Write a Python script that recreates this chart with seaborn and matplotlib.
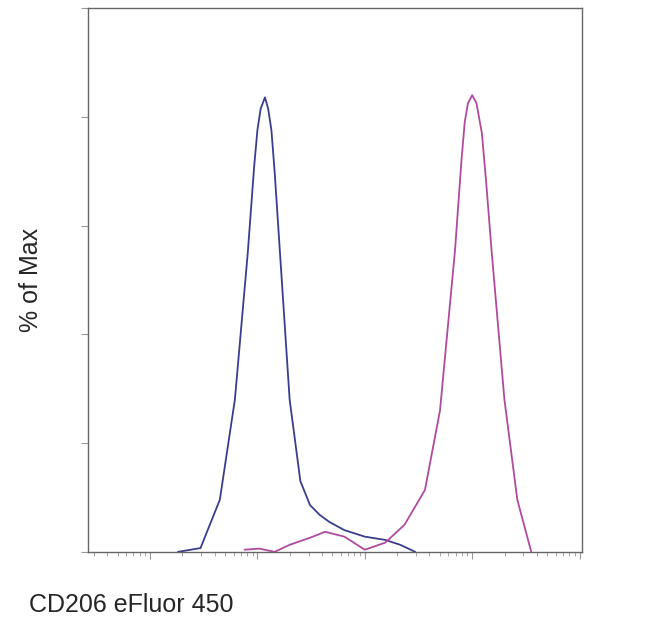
import matplotlib
matplotlib.use("Agg")
import matplotlib.pyplot as plt
import seaborn as sns
import numpy as np
from matplotlib.ticker import LogLocator, NullFormatter, FixedLocator

# log10 fluorescence vs % of max
blue_x = [1.26, 1.47, 1.65, 1.79, 1.91, 1.97, 2.00, 2.03, 2.07, 2.10, 2.13, 2.16, 2.21, 2.30, 2.40, 2.49, 2.58, 2.67, 2.81, 3.00, 3.19, 3.33, 3.47]
blue_y = [0, 0.7, 9.6, 28, 55, 71, 77.6, 81.5, 83.6, 81.5, 77.6, 70, 55, 28, 13, 8.6, 6.8, 5.5, 4, 2.8, 2.2, 1.3, 0]
pink_x = [1.88, 2.02, 2.16, 2.30, 2.49, 2.63, 2.81, 3.00, 3.19, 3.37, 3.56, 3.70, 3.84, 3.90, 3.93, 3.96, 4.00, 4.04, 4.09, 4.13, 4.18, 4.30, 4.42, 4.55]
pink_y = [0.4, 0.6, 0, 1.3, 2.6, 3.7, 2.8, 0.4, 1.7, 5, 11.4, 26, 55.5, 72, 79, 82.5, 84, 82.5, 77, 68, 55.5, 28, 9.6, 0]

sns.set_style("ticks")
plt.rcParams["font.family"] = ["Liberation Sans", "DejaVu Sans"]
fig = plt.figure(figsize=(6.5, 6.3), dpi=100)
ax = fig.add_axes([0.135, 0.124, 0.76, 0.863])

sns.lineplot(x=10 ** np.array(blue_x), y=blue_y, color="#3a3d8f", lw=1.3, ax=ax)
sns.lineplot(x=10 ** np.array(pink_x), y=pink_y, color="#b04a9e", lw=1.3, ax=ax)

ax.set_xscale("log")
ax.set_xlim(10 ** 0.42, 10 ** 5.02)
ax.set_ylim(0, 100)
ax.xaxis.set_major_locator(FixedLocator([10, 100, 1000, 1e4, 1e5]))
ax.xaxis.set_minor_locator(LogLocator(base=10, subs=np.arange(2, 10)))
ax.xaxis.set_major_formatter(NullFormatter())
ax.xaxis.set_minor_formatter(NullFormatter())
ax.set_yticks([0, 20, 40, 60, 80, 100])
ax.set_yticklabels([])
ax.tick_params(axis="both", which="major", length=5, color="#999999")
ax.tick_params(axis="both", which="minor", length=3, color="#999999")
for s in ax.spines.values():
    s.set_color("#666666")
    s.set_linewidth(1)

ax.set_ylabel("% of Max", fontsize=18, labelpad=24)
ax.set_xlabel("")
fig.text(0.045, 0.04, "CD206 eFluor 450", fontsize=18, ha="left", va="center")

fig.savefig("out.png", dpi=100)
